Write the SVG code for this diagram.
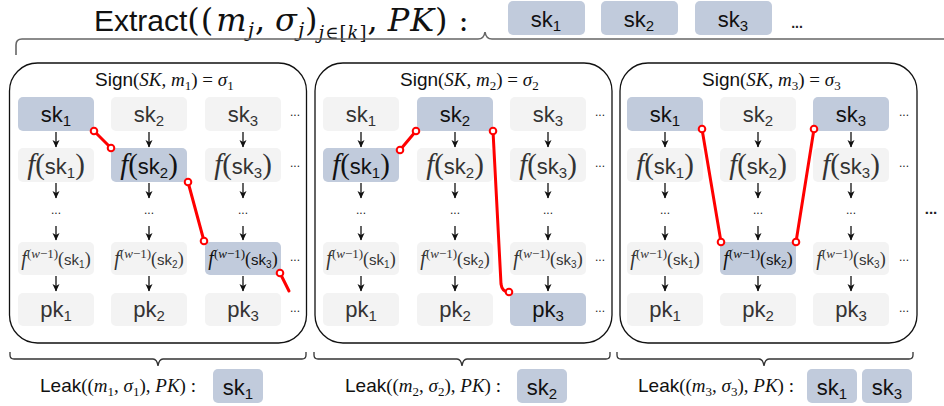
<svg xmlns="http://www.w3.org/2000/svg" width="944" height="406" viewBox="0 0 944 406">
<style>
.panel{fill:none;stroke:#111;stroke-width:1.3}
.lb{fill:#f3f3f3}
.hb{fill:#c1cbdc}
.t{font-family:"Liberation Sans",Arial,sans-serif;text-anchor:middle;fill:#333}
.tk{fill:#111}
.big{font-size:22px}
.sub{font-size:15px}
.fw{font-size:15px}
.mi{font-family:"Liberation Serif","Times New Roman",serif;font-style:italic}
.ser{font-family:"Liberation Serif","Times New Roman",serif}
.dmi{font-family:"DejaVu Serif",serif;font-style:italic;letter-spacing:1px}
.dser{font-family:"DejaVu Serif",serif;letter-spacing:1px}
.lab{font-family:"Liberation Sans",Arial,sans-serif;font-size:19px;fill:#111}
.dots{font-family:"Liberation Sans",Arial,sans-serif;font-size:12px;fill:#222;text-anchor:middle}
.arr line{stroke:#111;stroke-width:1.3;marker-end:url(#ah)}
.brace{fill:none;stroke:#333;stroke-width:1.3}
.red{stroke:#ff0000;stroke-width:3;fill:none;stroke-linecap:round}
.rc{fill:#fff;stroke:#ff0000;stroke-width:2}
</style>
<defs>
<marker id="ah" markerWidth="8" markerHeight="8" refX="7" refY="4" orient="auto" markerUnits="userSpaceOnUse">
<path d="M0,0.5 L7.5,4 L0,7.5 L2,4 Z" fill="#111"/>
</marker>
</defs>

<!-- top -->
<g id="extract-title">
<text class="lab" x="94" y="31" style="font-size:30px">Extract<tspan class="dser" style="font-size:32px">((</tspan><tspan class="dmi" dx="2" style="font-size:32px">m</tspan><tspan class="dmi" dy="6" style="font-size:20px">j</tspan><tspan class="dser" dy="-6" style="font-size:32px">,</tspan><tspan class="dmi" dx="9" style="font-size:32px">σ</tspan><tspan class="dmi" dy="6" style="font-size:20px">j</tspan><tspan class="dser" dy="-6" style="font-size:32px">)</tspan><tspan class="dmi" dy="8" style="font-size:18px">j</tspan><tspan class="dser" style="font-size:18px">∈[</tspan><tspan class="dmi" style="font-size:18px">k</tspan><tspan class="dser" style="font-size:18px">]</tspan><tspan class="dser" dy="-8" style="font-size:32px">,</tspan><tspan class="dmi" dx="9" style="font-size:32px">PK</tspan><tspan class="dser" style="font-size:32px">)</tspan><tspan class="dser" dx="10" style="font-size:30px">:</tspan></text>
</g>
<g id="extract-sk1"><rect class="hb" x="508" y="1" width="77" height="34" rx="5"/><text class="t tk big" x="546" y="27">sk<tspan class="sub" dy="4">1</tspan></text></g>
<g id="extract-sk2"><rect class="hb" x="601" y="1" width="77" height="34" rx="5"/><text class="t tk big" x="639" y="27">sk<tspan class="sub" dy="4">2</tspan></text></g>
<g id="extract-sk3"><rect class="hb" x="695" y="1" width="77" height="34" rx="5"/><text class="t tk big" x="733" y="27">sk<tspan class="sub" dy="4">3</tspan></text></g>
<text class="dots" x="797" y="28" style="font-weight:bold;font-size:14px">...</text>
<path class="brace" d="M16,55 L16,45 Q16,39 22,39 L478,39 Q484,39 485,32 Q486,39 492,39 L944,39" style="stroke:#666;stroke-width:1.6"/>

<!-- Panel 1 -->
<g id="panel1">
<rect class="panel" x="9.5" y="63" width="297" height="280" rx="28"/>
<text class="lab" x="95" y="86">Sign<tspan class="ser">(</tspan><tspan class="mi">SK</tspan><tspan class="ser">, </tspan><tspan class="mi">m</tspan><tspan class="ser" dy="4" style="font-size:13px">1</tspan><tspan class="ser" dy="-4">) = </tspan><tspan class="mi">σ</tspan><tspan class="ser" dy="4" style="font-size:13px">1</tspan></text>
</g>
<g id="p1-sk1"><rect class="hb" x="18" y="97" width="76" height="34" rx="5"/><text class="t tk big" x="56" y="122">sk<tspan class="sub" dy="4">1</tspan></text></g>
<g id="p1-sk2"><rect class="lb" x="111" y="97" width="76" height="34" rx="5"/><text class="t big" x="149" y="122">sk<tspan class="sub" dy="4">2</tspan></text></g>
<g id="p1-sk3"><rect class="lb" x="205" y="97" width="76" height="34" rx="5"/><text class="t big" x="243" y="122">sk<tspan class="sub" dy="4">3</tspan></text></g>
<g id="p1-f1"><rect class="lb" x="18" y="148" width="76" height="34" rx="5"/><text class="t big" x="56" y="174"><tspan class="mi" style="font-size:29px">f</tspan><tspan class="ser" style="font-size:29px">(</tspan>sk<tspan class="sub" dy="4">1</tspan><tspan class="ser" dy="-4" style="font-size:29px">)</tspan></text></g>
<g id="p1-f2"><rect class="hb" x="111" y="148" width="76" height="34" rx="5"/><text class="t tk big" x="149" y="174"><tspan class="mi" style="font-size:29px">f</tspan><tspan class="ser" style="font-size:29px">(</tspan>sk<tspan class="sub" dy="4">2</tspan><tspan class="ser" dy="-4" style="font-size:29px">)</tspan></text></g>
<g id="p1-f3"><rect class="lb" x="205" y="148" width="76" height="34" rx="5"/><text class="t big" x="243" y="174"><tspan class="mi" style="font-size:29px">f</tspan><tspan class="ser" style="font-size:29px">(</tspan>sk<tspan class="sub" dy="4">3</tspan><tspan class="ser" dy="-4" style="font-size:29px">)</tspan></text></g>
<g id="p1-fw1"><rect class="lb" x="18" y="242" width="76" height="33" rx="5"/><text class="t fw" x="56" y="265"><tspan class="mi" style="font-size:20px">f</tspan><tspan class="ser" dy="-7" style="font-size:13px">(</tspan><tspan class="mi" style="font-size:13px">w</tspan><tspan class="ser" style="font-size:13px">−1)</tspan><tspan class="ser" dy="7" style="font-size:18px">(</tspan>sk<tspan dy="3" style="font-size:10px">1</tspan><tspan class="ser" dy="-3" style="font-size:18px">)</tspan></text></g>
<g id="p1-fw2"><rect class="lb" x="111" y="242" width="76" height="33" rx="5"/><text class="t fw" x="149" y="265"><tspan class="mi" style="font-size:20px">f</tspan><tspan class="ser" dy="-7" style="font-size:13px">(</tspan><tspan class="mi" style="font-size:13px">w</tspan><tspan class="ser" style="font-size:13px">−1)</tspan><tspan class="ser" dy="7" style="font-size:18px">(</tspan>sk<tspan dy="3" style="font-size:10px">2</tspan><tspan class="ser" dy="-3" style="font-size:18px">)</tspan></text></g>
<g id="p1-fw3"><rect class="hb" x="205" y="242" width="76" height="33" rx="5"/><text class="t tk fw" x="243" y="265"><tspan class="mi" style="font-size:20px">f</tspan><tspan class="ser" dy="-7" style="font-size:13px">(</tspan><tspan class="mi" style="font-size:13px">w</tspan><tspan class="ser" style="font-size:13px">−1)</tspan><tspan class="ser" dy="7" style="font-size:18px">(</tspan>sk<tspan dy="3" style="font-size:10px">3</tspan><tspan class="ser" dy="-3" style="font-size:18px">)</tspan></text></g>
<g id="p1-pk1"><rect class="lb" x="18" y="293" width="76" height="33" rx="5"/><text class="t big" x="56" y="317">pk<tspan class="sub" dy="4">1</tspan></text></g>
<g id="p1-pk2"><rect class="lb" x="111" y="293" width="76" height="33" rx="5"/><text class="t big" x="149" y="317">pk<tspan class="sub" dy="4">2</tspan></text></g>
<g id="p1-pk3"><rect class="lb" x="205" y="293" width="76" height="33" rx="5"/><text class="t big" x="243" y="317">pk<tspan class="sub" dy="4">3</tspan></text></g>
<g id="p1-dots">
<text class="dots" x="295" y="116">...</text><text class="dots" x="295" y="167">...</text><text class="dots" x="295" y="261">...</text><text class="dots" x="295" y="312">...</text>
<text class="dots" x="56" y="214">...</text><text class="dots" x="149" y="214">...</text><text class="dots" x="243" y="214">...</text>
</g>

<!-- Panel 2 -->
<g id="panel2">
<rect class="panel" x="315" y="63" width="297" height="280" rx="28"/>
<text class="lab" x="400" y="86">Sign<tspan class="ser">(</tspan><tspan class="mi">SK</tspan><tspan class="ser">, </tspan><tspan class="mi">m</tspan><tspan class="ser" dy="4" style="font-size:13px">2</tspan><tspan class="ser" dy="-4">) = </tspan><tspan class="mi">σ</tspan><tspan class="ser" dy="4" style="font-size:13px">2</tspan></text>
</g>
<g id="p2-sk1"><rect class="lb" x="323" y="97" width="76" height="34" rx="5"/><text class="t big" x="361" y="122">sk<tspan class="sub" dy="4">1</tspan></text></g>
<g id="p2-sk2"><rect class="hb" x="417" y="97" width="76" height="34" rx="5"/><text class="t tk big" x="455" y="122">sk<tspan class="sub" dy="4">2</tspan></text></g>
<g id="p2-sk3"><rect class="lb" x="510" y="97" width="76" height="34" rx="5"/><text class="t big" x="548" y="122">sk<tspan class="sub" dy="4">3</tspan></text></g>
<g id="p2-f1"><rect class="hb" x="323" y="148" width="76" height="34" rx="5"/><text class="t tk big" x="361" y="174"><tspan class="mi" style="font-size:29px">f</tspan><tspan class="ser" style="font-size:29px">(</tspan>sk<tspan class="sub" dy="4">1</tspan><tspan class="ser" dy="-4" style="font-size:29px">)</tspan></text></g>
<g id="p2-f2"><rect class="lb" x="417" y="148" width="76" height="34" rx="5"/><text class="t big" x="455" y="174"><tspan class="mi" style="font-size:29px">f</tspan><tspan class="ser" style="font-size:29px">(</tspan>sk<tspan class="sub" dy="4">2</tspan><tspan class="ser" dy="-4" style="font-size:29px">)</tspan></text></g>
<g id="p2-f3"><rect class="lb" x="510" y="148" width="76" height="34" rx="5"/><text class="t big" x="548" y="174"><tspan class="mi" style="font-size:29px">f</tspan><tspan class="ser" style="font-size:29px">(</tspan>sk<tspan class="sub" dy="4">3</tspan><tspan class="ser" dy="-4" style="font-size:29px">)</tspan></text></g>
<g id="p2-fw1"><rect class="lb" x="323" y="242" width="76" height="33" rx="5"/><text class="t fw" x="361" y="265"><tspan class="mi" style="font-size:20px">f</tspan><tspan class="ser" dy="-7" style="font-size:13px">(</tspan><tspan class="mi" style="font-size:13px">w</tspan><tspan class="ser" style="font-size:13px">−1)</tspan><tspan class="ser" dy="7" style="font-size:18px">(</tspan>sk<tspan dy="3" style="font-size:10px">1</tspan><tspan class="ser" dy="-3" style="font-size:18px">)</tspan></text></g>
<g id="p2-fw2"><rect class="lb" x="417" y="242" width="76" height="33" rx="5"/><text class="t fw" x="455" y="265"><tspan class="mi" style="font-size:20px">f</tspan><tspan class="ser" dy="-7" style="font-size:13px">(</tspan><tspan class="mi" style="font-size:13px">w</tspan><tspan class="ser" style="font-size:13px">−1)</tspan><tspan class="ser" dy="7" style="font-size:18px">(</tspan>sk<tspan dy="3" style="font-size:10px">2</tspan><tspan class="ser" dy="-3" style="font-size:18px">)</tspan></text></g>
<g id="p2-fw3"><rect class="lb" x="510" y="242" width="76" height="33" rx="5"/><text class="t fw" x="548" y="265"><tspan class="mi" style="font-size:20px">f</tspan><tspan class="ser" dy="-7" style="font-size:13px">(</tspan><tspan class="mi" style="font-size:13px">w</tspan><tspan class="ser" style="font-size:13px">−1)</tspan><tspan class="ser" dy="7" style="font-size:18px">(</tspan>sk<tspan dy="3" style="font-size:10px">3</tspan><tspan class="ser" dy="-3" style="font-size:18px">)</tspan></text></g>
<g id="p2-pk1"><rect class="lb" x="323" y="293" width="76" height="33" rx="5"/><text class="t big" x="361" y="317">pk<tspan class="sub" dy="4">1</tspan></text></g>
<g id="p2-pk2"><rect class="lb" x="417" y="293" width="76" height="33" rx="5"/><text class="t big" x="455" y="317">pk<tspan class="sub" dy="4">2</tspan></text></g>
<g id="p2-pk3"><rect class="hb" x="510" y="293" width="76" height="33" rx="5"/><text class="t tk big" x="548" y="317">pk<tspan class="sub" dy="4">3</tspan></text></g>
<g id="p2-dots">
<text class="dots" x="600" y="116">...</text><text class="dots" x="600" y="167">...</text><text class="dots" x="600" y="261">...</text><text class="dots" x="600" y="312">...</text>
<text class="dots" x="361" y="214">...</text><text class="dots" x="455" y="214">...</text><text class="dots" x="548" y="214">...</text>
</g>

<!-- Panel 3 -->
<g id="panel3">
<rect class="panel" x="620" y="63" width="297" height="280" rx="28"/>
<text class="lab" x="702" y="86">Sign<tspan class="ser">(</tspan><tspan class="mi">SK</tspan><tspan class="ser">, </tspan><tspan class="mi">m</tspan><tspan class="ser" dy="4" style="font-size:13px">3</tspan><tspan class="ser" dy="-4">) = </tspan><tspan class="mi">σ</tspan><tspan class="ser" dy="4" style="font-size:13px">3</tspan></text>
</g>
<g id="p3-sk1"><rect class="hb" x="627" y="97" width="76" height="34" rx="5"/><text class="t tk big" x="665" y="122">sk<tspan class="sub" dy="4">1</tspan></text></g>
<g id="p3-sk2"><rect class="lb" x="720" y="97" width="76" height="34" rx="5"/><text class="t big" x="758" y="122">sk<tspan class="sub" dy="4">2</tspan></text></g>
<g id="p3-sk3"><rect class="hb" x="813" y="97" width="76" height="34" rx="5"/><text class="t tk big" x="851" y="122">sk<tspan class="sub" dy="4">3</tspan></text></g>
<g id="p3-f1"><rect class="lb" x="627" y="148" width="76" height="34" rx="5"/><text class="t big" x="665" y="174"><tspan class="mi" style="font-size:29px">f</tspan><tspan class="ser" style="font-size:29px">(</tspan>sk<tspan class="sub" dy="4">1</tspan><tspan class="ser" dy="-4" style="font-size:29px">)</tspan></text></g>
<g id="p3-f2"><rect class="lb" x="720" y="148" width="76" height="34" rx="5"/><text class="t big" x="758" y="174"><tspan class="mi" style="font-size:29px">f</tspan><tspan class="ser" style="font-size:29px">(</tspan>sk<tspan class="sub" dy="4">2</tspan><tspan class="ser" dy="-4" style="font-size:29px">)</tspan></text></g>
<g id="p3-f3"><rect class="lb" x="813" y="148" width="76" height="34" rx="5"/><text class="t big" x="851" y="174"><tspan class="mi" style="font-size:29px">f</tspan><tspan class="ser" style="font-size:29px">(</tspan>sk<tspan class="sub" dy="4">3</tspan><tspan class="ser" dy="-4" style="font-size:29px">)</tspan></text></g>
<g id="p3-fw1"><rect class="lb" x="627" y="242" width="76" height="33" rx="5"/><text class="t fw" x="665" y="265"><tspan class="mi" style="font-size:20px">f</tspan><tspan class="ser" dy="-7" style="font-size:13px">(</tspan><tspan class="mi" style="font-size:13px">w</tspan><tspan class="ser" style="font-size:13px">−1)</tspan><tspan class="ser" dy="7" style="font-size:18px">(</tspan>sk<tspan dy="3" style="font-size:10px">1</tspan><tspan class="ser" dy="-3" style="font-size:18px">)</tspan></text></g>
<g id="p3-fw2"><rect class="hb" x="720" y="242" width="76" height="33" rx="5"/><text class="t tk fw" x="758" y="265"><tspan class="mi" style="font-size:20px">f</tspan><tspan class="ser" dy="-7" style="font-size:13px">(</tspan><tspan class="mi" style="font-size:13px">w</tspan><tspan class="ser" style="font-size:13px">−1)</tspan><tspan class="ser" dy="7" style="font-size:18px">(</tspan>sk<tspan dy="3" style="font-size:10px">2</tspan><tspan class="ser" dy="-3" style="font-size:18px">)</tspan></text></g>
<g id="p3-fw3"><rect class="lb" x="813" y="242" width="76" height="33" rx="5"/><text class="t fw" x="851" y="265"><tspan class="mi" style="font-size:20px">f</tspan><tspan class="ser" dy="-7" style="font-size:13px">(</tspan><tspan class="mi" style="font-size:13px">w</tspan><tspan class="ser" style="font-size:13px">−1)</tspan><tspan class="ser" dy="7" style="font-size:18px">(</tspan>sk<tspan dy="3" style="font-size:10px">3</tspan><tspan class="ser" dy="-3" style="font-size:18px">)</tspan></text></g>
<g id="p3-pk1"><rect class="lb" x="627" y="293" width="76" height="33" rx="5"/><text class="t big" x="665" y="317">pk<tspan class="sub" dy="4">1</tspan></text></g>
<g id="p3-pk2"><rect class="lb" x="720" y="293" width="76" height="33" rx="5"/><text class="t big" x="758" y="317">pk<tspan class="sub" dy="4">2</tspan></text></g>
<g id="p3-pk3"><rect class="lb" x="813" y="293" width="76" height="33" rx="5"/><text class="t big" x="851" y="317">pk<tspan class="sub" dy="4">3</tspan></text></g>
<g id="p3-dots">
<text class="dots" x="904" y="116">...</text><text class="dots" x="904" y="167">...</text><text class="dots" x="904" y="261">...</text><text class="dots" x="904" y="312">...</text>
<text class="dots" x="665" y="214">...</text><text class="dots" x="758" y="214">...</text><text class="dots" x="851" y="214">...</text>
</g>
<text class="dots" x="931" y="214" style="font-weight:bold;font-size:15px">...</text>

<!-- connectors -->
<g id="connectors">
<g id="arrows" class="arr">
<line x1="56" y1="132" x2="56" y2="147"/><line x1="149" y1="132" x2="149" y2="147"/><line x1="243" y1="132" x2="243" y2="147"/>
<line x1="56" y1="183" x2="56" y2="198"/><line x1="149" y1="183" x2="149" y2="198"/><line x1="243" y1="183" x2="243" y2="198"/>
<line x1="56" y1="226" x2="56" y2="240"/><line x1="149" y1="226" x2="149" y2="240"/><line x1="243" y1="226" x2="243" y2="240"/>
<line x1="56" y1="276" x2="56" y2="291"/><line x1="149" y1="276" x2="149" y2="291"/><line x1="243" y1="276" x2="243" y2="291"/>
<line x1="361" y1="132" x2="361" y2="147"/><line x1="455" y1="132" x2="455" y2="147"/><line x1="548" y1="132" x2="548" y2="147"/>
<line x1="361" y1="183" x2="361" y2="198"/><line x1="455" y1="183" x2="455" y2="198"/><line x1="548" y1="183" x2="548" y2="198"/>
<line x1="361" y1="226" x2="361" y2="240"/><line x1="455" y1="226" x2="455" y2="240"/><line x1="548" y1="226" x2="548" y2="240"/>
<line x1="361" y1="276" x2="361" y2="291"/><line x1="455" y1="276" x2="455" y2="291"/><line x1="548" y1="276" x2="548" y2="291"/>
<line x1="665" y1="132" x2="665" y2="147"/><line x1="758" y1="132" x2="758" y2="147"/><line x1="851" y1="132" x2="851" y2="147"/>
<line x1="665" y1="183" x2="665" y2="198"/><line x1="758" y1="183" x2="758" y2="198"/><line x1="851" y1="183" x2="851" y2="198"/>
<line x1="665" y1="226" x2="665" y2="240"/><line x1="758" y1="226" x2="758" y2="240"/><line x1="851" y1="226" x2="851" y2="240"/>
<line x1="665" y1="276" x2="665" y2="291"/><line x1="758" y1="276" x2="758" y2="291"/><line x1="851" y1="276" x2="851" y2="291"/>
</g>
<g id="chains">
<path class="red" d="M94,131 L111,148"/>
<path class="red" d="M188,182 L204,241"/>
<path class="red" d="M280,273 L289,291"/>
<path class="red" d="M400,150 L416,131"/>
<path class="red" d="M493,131 L501,284 Q502,292 509,292"/>
<path class="red" d="M702,129 L721,242"/>
<path class="red" d="M814,129 L796,242"/>
<circle class="rc" cx="94" cy="131" r="3.3"/><circle class="rc" cx="111" cy="148" r="3.3"/>
<circle class="rc" cx="188" cy="182" r="3.3"/><circle class="rc" cx="204" cy="241" r="3.3"/>
<circle class="rc" cx="280" cy="273" r="3.3"/>
<circle class="rc" cx="400" cy="150" r="3.3"/><circle class="rc" cx="416" cy="131" r="3.3"/>
<circle class="rc" cx="493" cy="131" r="3.3"/><circle class="rc" cx="509" cy="292" r="3.3"/>
<circle class="rc" cx="702" cy="129" r="3.3"/><circle class="rc" cx="721" cy="242" r="3.3"/>
<circle class="rc" cx="814" cy="129" r="3.3"/><circle class="rc" cx="796" cy="242" r="3.3"/>
</g>
</g>

<!-- bottom braces and leak labels -->
<path class="brace" d="M10,352 L10,355 Q10,359 14,359 L153,359 Q157,359 158,366 Q159,359 163,359 L302,359 Q306,359 306,355 L306,352"/>
<path class="brace" d="M314,352 L314,355 Q314,359 318,359 L457,359 Q461,359 462,366 Q463,359 467,359 L606,359 Q610,359 610,355 L610,352"/>
<path class="brace" d="M617,352 L617,355 Q617,359 621,359 L759,359 Q763,359 764,366 Q765,359 769,359 L909,359 Q913,359 913,355 L913,352"/>

<g id="leak1">
<text class="lab" x="40" y="392">Leak<tspan class="ser">((</tspan><tspan class="mi">m</tspan><tspan class="ser" dy="4" style="font-size:13px">1</tspan><tspan class="ser" dy="-4">, </tspan><tspan class="mi">σ</tspan><tspan class="ser" dy="4" style="font-size:13px">1</tspan><tspan class="ser" dy="-4">), </tspan><tspan class="mi">PK</tspan><tspan class="ser">) :</tspan></text>
<rect class="hb" x="213" y="369" width="50" height="34" rx="5"/><text class="t tk big" x="238" y="395">sk<tspan class="sub" dy="4">1</tspan></text>
</g>
<g id="leak2">
<text class="lab" x="345" y="392">Leak<tspan class="ser">((</tspan><tspan class="mi">m</tspan><tspan class="ser" dy="4" style="font-size:13px">2</tspan><tspan class="ser" dy="-4">, </tspan><tspan class="mi">σ</tspan><tspan class="ser" dy="4" style="font-size:13px">2</tspan><tspan class="ser" dy="-4">), </tspan><tspan class="mi">PK</tspan><tspan class="ser">) :</tspan></text>
<rect class="hb" x="517" y="369" width="50" height="34" rx="5"/><text class="t tk big" x="542" y="395">sk<tspan class="sub" dy="4">2</tspan></text>
</g>
<g id="leak3">
<text class="lab" x="638" y="392">Leak<tspan class="ser">((</tspan><tspan class="mi">m</tspan><tspan class="ser" dy="4" style="font-size:13px">3</tspan><tspan class="ser" dy="-4">, </tspan><tspan class="mi">σ</tspan><tspan class="ser" dy="4" style="font-size:13px">3</tspan><tspan class="ser" dy="-4">), </tspan><tspan class="mi">PK</tspan><tspan class="ser">) :</tspan></text>
<rect class="hb" x="807" y="369" width="50" height="34" rx="5"/><text class="t tk big" x="832" y="395">sk<tspan class="sub" dy="4">1</tspan></text>
<rect class="hb" x="862" y="369" width="50" height="34" rx="5"/><text class="t tk big" x="887" y="395">sk<tspan class="sub" dy="4">3</tspan></text>
</g>
</svg>
